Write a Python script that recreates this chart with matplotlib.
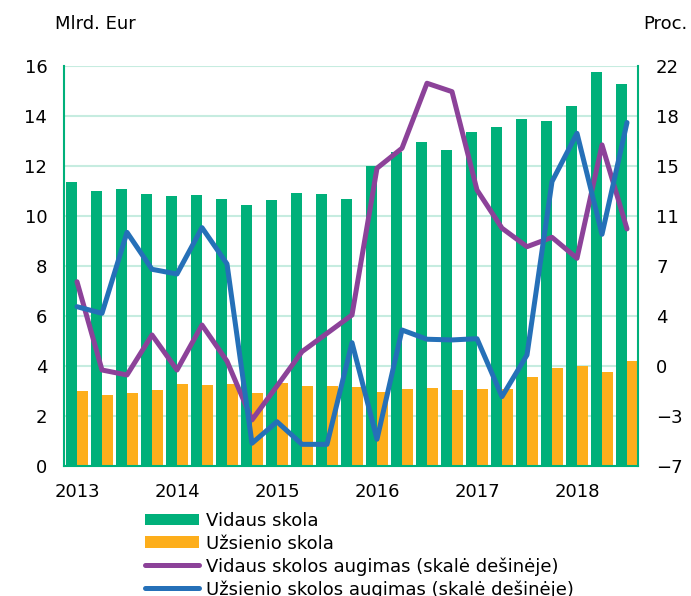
import matplotlib
matplotlib.use("Agg")
import matplotlib.pyplot as plt
import numpy as np

# quarterly data 2013Q1 - 2018Q3
years = ["2013", "2014", "2015", "2016", "2017", "2018"]
vidaus_skola = [11.35, 11.01, 11.07, 10.88, 10.80, 10.85, 10.68, 10.44, 10.64, 10.92,
                10.87, 10.67, 12.01, 12.55, 12.96, 12.64, 13.36, 13.56, 13.89, 13.80,
                14.39, 15.76, 15.28]
uzsienio_skola = [3.00, 2.84, 2.92, 3.04, 3.28, 3.24, 3.28, 2.93, 3.31, 3.19,
                  3.20, 3.15, 2.96, 3.09, 3.12, 3.04, 3.08, 3.07, 3.55, 3.91,
                  4.00, 3.76, 4.20]
vidaus_augimas = [6.36, -0.04, -0.40, 2.50, -0.04, 3.22, 0.60, -3.66, -1.20, 1.29,
                  2.62, 3.95, 14.59, 16.04, 20.75, 20.14, 13.01, 10.24, 8.90, 9.58,
                  8.06, 16.28, 10.19]
uzsienio_augimas = [4.55, 4.07, 9.94, 7.26, 6.92, 10.28, 7.65, -5.35, -3.79, -5.43,
                    -5.43, 1.94, -5.06, 2.86, 2.19, 2.14, 2.23, -1.97, 1.05, 13.62,
                    17.12, 9.80, 17.90]
right_labels = ["\u22127", "\u22123", "0", "4", "7", "11", "15", "18", "22"]

green = "#00b07a"
orange = "#fdae1b"
purple = "#8c4299"
blue = "#2570b8"
grid_col = "#c6ece0"

plt.rcParams['font.family'] = ['DejaVu Sans']
fs = 13

fig = plt.figure(figsize=(6.91, 5.96), dpi=100)
ax = fig.add_axes([64/691, 130/596, 574/691, 400/596])

x = np.arange(len(vidaus_skola))
w = 0.44
ax.bar(x - w/2, vidaus_skola, width=w, color=green, zorder=2, label="Vidaus skola")
ax.bar(x + w/2, uzsienio_skola, width=w, color=orange, zorder=2, label="Užsienio skola")

ax.set_xlim(-0.52, 22.44)
ax.set_ylim(0, 16)
ax.set_yticks(np.arange(0, 17, 2))
ax.set_xticks(np.arange(0, 23, 4))
ax.set_xticklabels(years)
ax.grid(axis="y", color=grid_col, lw=1.5, zorder=0)
ax.tick_params(axis="both", length=0, labelsize=fs)
ax.tick_params(axis="y", pad=12)
ax.tick_params(axis="x", pad=12)
for side in ["left", "right", "bottom"]:
    ax.spines[side].set_color(green)
    ax.spines[side].set_linewidth(1.5)
ax.spines["top"].set_visible(False)

ax2 = ax.twinx()
ax2.plot(x, vidaus_augimas, color=purple, lw=3.6, solid_capstyle="round",
         label="Vidaus skolos augimas (skalė dešinėje)")
ax2.plot(x, uzsienio_augimas, color=blue, lw=3.6, solid_capstyle="round",
         label="Užsienio skolos augimas (skalė dešinėje)")
ax2.set_ylim(-7, 22)
ax2.set_yticks(np.linspace(-7, 22, 9))
ax2.set_yticklabels(right_labels)
ax2.tick_params(axis="y", length=0, labelsize=fs, pad=13)
for s in ax2.spines.values():
    s.set_visible(False)

fig.text(55/691, 1 - 24/596, "Mlrd. Eur", fontsize=fs, va="center", ha="left")
fig.text(643/691, 1 - 24/596, "Proc.", fontsize=fs, va="center", ha="left")

h1, l1 = ax.get_legend_handles_labels()
h2, l2 = ax2.get_legend_handles_labels()
fig.legend(h1 + h2, l1 + l2, loc="upper left", bbox_to_anchor=(145/691, 1 - 512/596),
           frameon=False, fontsize=fs, handlelength=3.0, handleheight=0.6,
           labelspacing=0.25, handletextpad=0.4, borderpad=0, borderaxespad=0)

fig.savefig("out.png", dpi=100)
